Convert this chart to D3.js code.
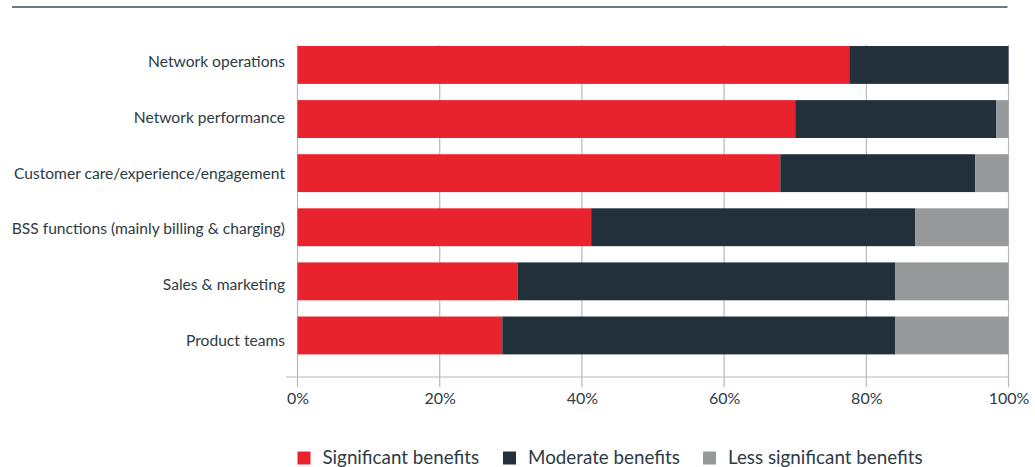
<!DOCTYPE html>
<html>
<head>
<meta charset="utf-8">
<script src="https://cdn.jsdelivr.net/npm/d3@7"></script>
<style>
  html, body { margin: 0; padding: 0; background: #fff; }
  svg { display: block; font-family: Lato, "Open Sans", sans-serif; }
</style>
</head>
<body>
<svg id="chart" width="1035" height="467"></svg>
<script>
// Functions asked about, top to bottom
const categories = [
  "Network operations",
  "Network performance",
  "Customer care/experience/engagement",
  "BSS functions (mainly billing & charging)",
  "Sales & marketing",
  "Product teams"
];

// Share of respondents (%) per benefit level
const significant = [77.6, 70.0, 67.9, 41.3, 31.0, 28.8];
const moderate    = [22.4, 28.3, 27.4, 45.6, 53.1, 55.3];
const lessSignif  = [0.0, 1.7, 4.7, 13.1, 15.9, 15.9];

const seriesNames = ["Significant benefits", "Moderate benefits", "Less significant benefits"];
const tickValues = [0, 20, 40, 60, 80, 100];

const colors = ["#e8232d", "#21303b", "#98999a"];
const textColor = "#2d3b45";
const gridColor = "#b8b8b8";

const svg = d3.select("#chart");

const rows = categories.map((c, i) => ({
  category: c,
  "Significant benefits": significant[i],
  "Moderate benefits": moderate[i],
  "Less significant benefits": lessSignif[i]
}));

const stacked = d3.stack().keys(seriesNames)(rows);

const x = d3.scaleLinear().domain([0, 100]).range([297.5, 1008.5]);
const y = d3.scaleBand().domain(categories).range([37.9, 362.5])
  .paddingInner(0.3).paddingOuter(0.15);
const yLabel = d3.scalePoint().domain(categories).range([61.7, 340]);

const axisY = 377;
const gridTop = 45;
const gridBottom = 387;

// Rule along the top
svg.append("line")
  .attr("x1", 12).attr("x2", 1007.5)
  .attr("y1", 7).attr("y2", 7)
  .attr("stroke", "#3d4a52").attr("stroke-width", 1.6);

// Vertical gridlines (extend just below the baseline as ticks)
svg.append("g").selectAll("line")
  .data(tickValues)
  .join("line")
  .attr("x1", d => x(d)).attr("x2", d => x(d))
  .attr("y1", gridTop).attr("y2", gridBottom)
  .attr("stroke", gridColor).attr("stroke-width", 1.2);

// Horizontal baseline
svg.append("line")
  .attr("x1", 286).attr("x2", x(100))
  .attr("y1", axisY).attr("y2", axisY)
  .attr("stroke", gridColor).attr("stroke-width", 1.2);

// Stacked bars
svg.append("g").selectAll("g")
  .data(stacked)
  .join("g")
  .attr("fill", (d, i) => colors[i])
  .selectAll("rect")
  .data(d => d)
  .join("rect")
  .attr("x", d => x(d[0]))
  .attr("width", d => Math.max(0, x(d[1]) - x(d[0])))
  .attr("y", d => y(d.data.category))
  .attr("height", y.bandwidth());

// Category labels
const yAxis = svg.append("g")
  .attr("transform", "translate(285,0)")
  .call(d3.axisLeft(yLabel).tickSize(0).tickPadding(0));
yAxis.select(".domain").remove();
yAxis.selectAll("text")
  .attr("fill", textColor)
  .style("font-family", "Lato, 'Open Sans', sans-serif")
  .style("font-size", "15.6px");

// Percentage tick labels
const xAxis = svg.append("g")
  .attr("transform", `translate(0,${axisY})`)
  .call(d3.axisBottom(x).tickValues(tickValues).tickFormat(d => d + "%").tickSize(0).tickPadding(16));
xAxis.select(".domain").remove();
xAxis.selectAll("text")
  .attr("fill", textColor)
  .style("font-family", "Lato, 'Open Sans', sans-serif")
  .style("font-size", "16px");

// Legend
const legendX = [297.5, 503, 703];
const legend = svg.append("g").selectAll("g")
  .data(seriesNames)
  .join("g")
  .attr("transform", (d, i) => `translate(${legendX[i]},451.5)`);
legend.append("rect")
  .attr("width", 13).attr("height", 13)
  .attr("fill", (d, i) => colors[i]);
legend.append("text")
  .attr("x", 25).attr("y", 12.5)
  .attr("fill", textColor)
  .style("font-size", "18.8px")
  .text(d => d);
</script>
</body>
</html>
